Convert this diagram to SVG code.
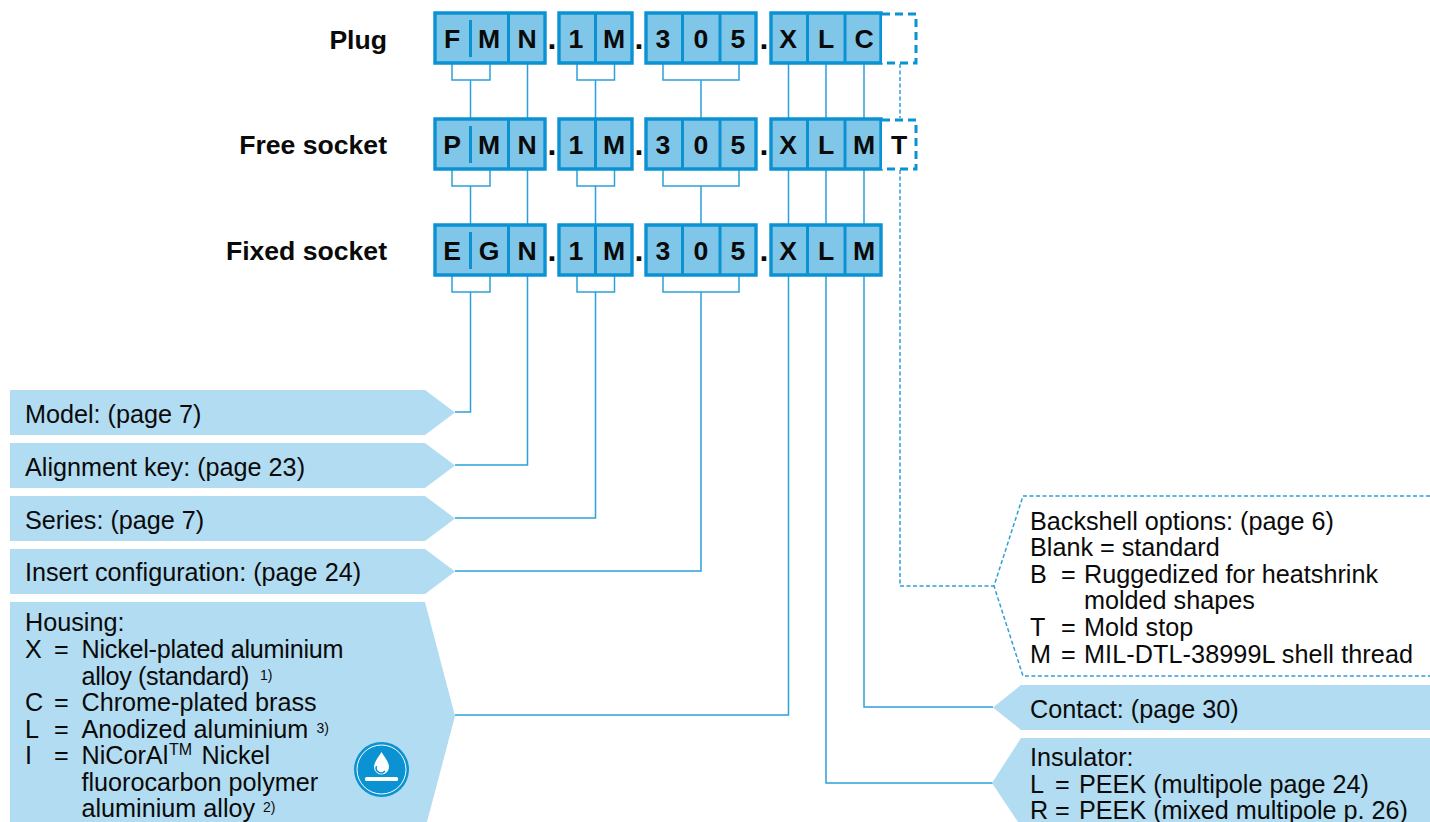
<svg xmlns="http://www.w3.org/2000/svg" width="1430" height="822" viewBox="0 0 1430 822">
<style>
text{font-family:"Liberation Sans",Arial,sans-serif;fill:#0a0a0a}
.t{font-size:25.2px}
.sup{font-size:14px}
.tm{font-size:16px}
.title{font-size:26.6px;font-weight:bold;text-anchor:end}
.c{font-size:26.6px;font-weight:bold;text-anchor:middle}
.dot{font-size:32px;font-weight:bold;text-anchor:middle}
.box{fill:#80c6e8;stroke:#0a92d2;stroke-width:3.4}
.div{fill:none;stroke:#0a92d2;stroke-width:3}
.dash{fill:#fff;stroke:#0a92d2;stroke-width:3;stroke-dasharray:8 5}
.tag{fill:#b2dcf1}
.ln{fill:none;stroke:#2da0d8;stroke-width:1.5}
.dl{fill:none;stroke:#2da0d8;stroke-width:1.5;stroke-dasharray:4 2.5}
</style>
<defs>
<g id="cells">
<path class="box" d="M435 0H545V50H435ZM559 0H632V50H559ZM646 0H756V50H646ZM771 0H881V50H771Z"/>
<path class="div" d="M508.500 -1V51M595.500 -1V51M682.500 0V50M720 0V50M807.500 0V50M845 0V50"/>
<path class="div" d="M470.500 7V44"/>
<text class="dot" x="552" y="36">.</text><text class="dot" x="639" y="36">.</text><text class="dot" x="764" y="36">.</text>
</g>
</defs>
<g id="connectors">
<path class="ln" d="M452 64V80H490V64M470.500 80V118M527.500 64V118M577 64V80H614.500V64M595.500 80V118M663 64V80H739V64M701 80V118M788.500 64V118M826 64V118M864 64V118"/>
<path class="ln" d="M452 170V186H490V170M470.500 186V224M527.500 170V224M577 170V186H614.500V170M595.500 186V224M663 170V186H739V170M701 186V224M788.500 170V224M826 170V224M864 170V224"/>
<path class="ln" d="M452 276V292H490V276M577 276V292H614.500V276M663 276V292H739V276"/>
<path class="ln" d="M470.500 292V412H455M527.500 276V465H455M595.500 292V518H455M701 292V571H455M788.500 276V715H455M826 276V783H993M864 276V707H993"/>
<path class="dl" d="M900 64V118M900 170V586H994"/>
</g>
<g id="plug">
<text class="title" x="387" y="49">Plug</text>
<use href="#cells" y="13"/>
<path class="dash" d="M882 14H916V63H882"/>
<text class="c" x="452" y="48">F</text><text class="c" x="489" y="48">M</text><text class="c" x="527" y="48">N</text><text class="c" x="576" y="48">1</text><text class="c" x="614" y="48">M</text><text class="c" x="663" y="48">3</text><text class="c" x="701" y="48">0</text><text class="c" x="738" y="48">5</text><text class="c" x="788" y="48">X</text><text class="c" x="826" y="48">L</text><text class="c" x="864" y="48">C</text>
</g>
<g id="free-socket">
<text class="title" x="387" y="154">Free socket</text>
<use href="#cells" y="119"/>
<path class="dash" d="M882 120H916V169H882"/>
<text class="c" x="452" y="154">P</text><text class="c" x="489" y="154">M</text><text class="c" x="527" y="154">N</text><text class="c" x="576" y="154">1</text><text class="c" x="614" y="154">M</text><text class="c" x="663" y="154">3</text><text class="c" x="701" y="154">0</text><text class="c" x="738" y="154">5</text><text class="c" x="788" y="154">X</text><text class="c" x="826" y="154">L</text><text class="c" x="864" y="154">M</text><text class="c" x="899" y="154">T</text>
</g>
<g id="fixed-socket">
<text class="title" x="387" y="260">Fixed socket</text>
<use href="#cells" y="225"/>
<text class="c" x="452" y="260">E</text><text class="c" x="489" y="260">G</text><text class="c" x="527" y="260">N</text><text class="c" x="576" y="260">1</text><text class="c" x="614" y="260">M</text><text class="c" x="663" y="260">3</text><text class="c" x="701" y="260">0</text><text class="c" x="738" y="260">5</text><text class="c" x="788" y="260">X</text><text class="c" x="826" y="260">L</text><text class="c" x="864" y="260">M</text>
</g>
<g id="model"><path class="tag" d="M10 390H425L455 412.500L425 435H10Z"/><text class="t" x="25" y="422.500">Model: (page 7)</text></g>
<g id="alignment-key"><path class="tag" d="M10 443H425L455 465.500L425 488H10Z"/><text class="t" x="25" y="475.500">Alignment key: (page 23)</text></g>
<g id="series"><path class="tag" d="M10 496H425L455 518.500L425 541H10Z"/><text class="t" x="25" y="528.500">Series: (page 7)</text></g>
<g id="insert"><path class="tag" d="M10 549H425L455 571.500L425 594H10Z"/><text class="t" x="25" y="581">Insert configuration: (page 24)</text></g>
<g id="housing">
<path class="tag" d="M10 602H425L455 716L427 822H10Z"/>
<text class="t" x="25" y="630.500">Housing:</text>
<text class="t" x="25" y="658">X</text><text class="t" x="54" y="658">=</text><text class="t" x="81.500" y="658" textLength="262">Nickel-plated aluminium</text>
<text class="t" x="81.500" y="684.500" textLength="168">alloy (standard)</text><text class="sup" x="260" y="680">1)</text>
<text class="t" x="25" y="711">C</text><text class="t" x="54" y="711">=</text><text class="t" x="81.500" y="711">Chrome-plated brass</text>
<text class="t" x="25" y="737.500">L</text><text class="t" x="54" y="737.500">=</text><text class="t" x="81.500" y="737.500">Anodized aluminium</text><text class="sup" x="316.500" y="733">3)</text>
<text class="t" x="25" y="764">I</text><text class="t" x="54" y="764">=</text><text class="t" x="81.500" y="764">NiCorAl</text><text class="tm" x="169" y="755">TM</text><text class="t" x="201.500" y="764">Nickel</text>
<text class="t" x="81.500" y="790.500">fluorocarbon polymer</text>
<text class="t" x="81.500" y="817">aluminium alloy</text><text class="sup" x="263" y="812">2)</text>
<circle cx="381.500" cy="769.500" r="27.500" fill="#0a92d2"/>
<circle cx="381.500" cy="769.500" r="24.500" fill="none" stroke="#fff" stroke-width="1"/>
<path fill="#fff" d="M381.500 752C378.500 757 374 762 374 767A7.500 7.500 0 0 0 389 767C389 762 384.500 757 381.500 752Z"/>
<path fill="none" stroke="#0a92d2" stroke-width="1.500" d="M376.500 766A5 5 0 0 0 385 771"/>
<rect x="365" y="777" width="33" height="4" rx="1.500" fill="#fff"/>
</g>
<g id="backshell">
<path class="dl" d="M1430 496H1023L994 586L1023 676H1430"/>
<text class="t" x="1030" y="529.500">Backshell options: (page 6)</text>
<text class="t" x="1030" y="556">Blank = standard</text>
<text class="t" x="1030" y="582.500">B</text><text class="t" x="1061" y="582.500">=</text><text class="t" x="1084" y="582.500">Ruggedized for heatshrink</text>
<text class="t" x="1084" y="609">molded shapes</text>
<text class="t" x="1030" y="636">T</text><text class="t" x="1061" y="636">=</text><text class="t" x="1084" y="636">Mold stop</text>
<text class="t" x="1030" y="662.500">M</text><text class="t" x="1061" y="662.500">=</text><text class="t" x="1084" y="662.500" textLength="329">MIL-DTL-38999L shell thread</text>
</g>
<g id="contact"><path class="tag" d="M1430 685H1021L993 707.500L1021 730H1430Z"/><text class="t" x="1030" y="717.500">Contact: (page 30)</text></g>
<g id="insulator">
<path class="tag" d="M1430 738H1021L992 783L1018 822H1430Z"/>
<text class="t" x="1030" y="766">Insulator:</text>
<text class="t" x="1030" y="792.500">L</text><text class="t" x="1055" y="792.500">=</text><text class="t" x="1079" y="792.500">PEEK (multipole page 24)</text>
<text class="t" x="1030" y="819">R</text><text class="t" x="1055" y="819">=</text><text class="t" x="1079" y="819">PEEK (mixed multipole p. 26)</text>
</g>
</svg>
